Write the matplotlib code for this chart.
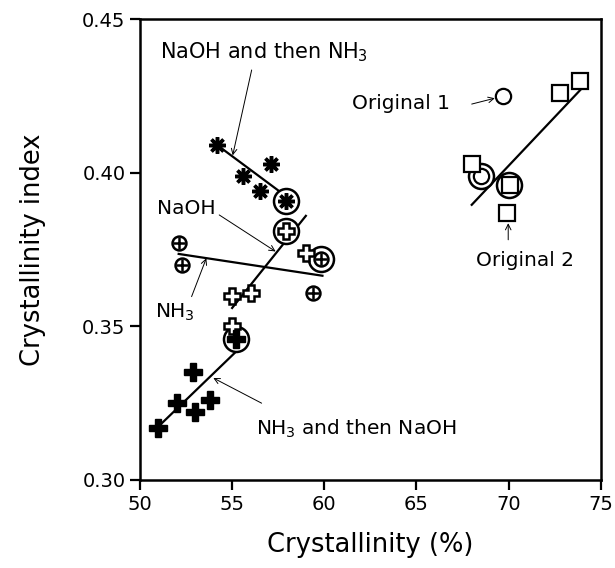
import matplotlib
matplotlib.use("Agg")
import matplotlib.pyplot as plt

# NaOH and then NH3 (asterisks)
ast_x = [54.2, 57.1, 55.6, 56.5]
ast_y = [0.409, 0.403, 0.399, 0.394]
ast_mean = (57.9, 0.391)
ast_line_x = [54.2, 57.9]
ast_line_y = [0.409, 0.3925]

# NaOH (open plus)
naoh_x = [55.0, 56.0, 59.0, 55.0]
naoh_y = [0.360, 0.361, 0.374, 0.350]
naoh_mean = (57.9, 0.381)
naoh_line_x = [55.0, 59.0]
naoh_line_y = [0.356, 0.386]

# NH3 (circled plus)
nh3_x = [52.1, 52.3, 59.4]
nh3_y = [0.377, 0.370, 0.361]
nh3_mean = (59.8, 0.372)
nh3_line_x = [52.1, 59.9]
nh3_line_y = [0.3736, 0.3665]

# NH3 and then NaOH (filled plus)
nn_x = [51.0, 52.0, 52.9, 53.0, 53.8]
nn_y = [0.317, 0.325, 0.335, 0.322, 0.326]
nn_mean = (55.2, 0.346)
nn_line_x = [51.0, 55.25]
nn_line_y = [0.3174, 0.342]

# Originals
orig1 = (69.7, 0.425)
orig1_mean = (68.5, 0.399)
sq_x = [73.9, 72.8, 68.0, 70.1, 69.9]
sq_y = [0.430, 0.426, 0.403, 0.396, 0.387]
sq_mean = (70.0, 0.396)
orig_line_x = [68.0, 74.05]
orig_line_y = [0.3896, 0.428]

fig = plt.figure(figsize=(6.15, 5.68), dpi=100)
ax = fig.add_axes([0.2276, 0.155, 0.7492, 0.811])

lw = 1.6
# fit lines
ax.plot(ast_line_x, ast_line_y, color='black', lw=lw, zorder=2)
ax.plot(naoh_line_x, naoh_line_y, color='black', lw=lw, zorder=2)
ax.plot(nh3_line_x, nh3_line_y, color='black', lw=lw, zorder=2)
ax.plot(nn_line_x, nn_line_y, color='black', lw=lw, zorder=2)
ax.plot(orig_line_x, orig_line_y, color='black', lw=lw, zorder=2)

# big circles round the means
big = [ast_mean, naoh_mean, nh3_mean, nn_mean, orig1_mean, sq_mean]
ax.plot([p[0] for p in big], [p[1] for p in big], 'o', ms=18, mfc='white',
        mec='black', mew=1.8, ls='none', zorder=3)

# asterisks
ax.plot(ast_x + [ast_mean[0]], ast_y + [ast_mean[1]], marker=(8, 2, 0), ms=12,
        mec='black', mew=2.5, ls='none', zorder=4)
# open plus
ax.plot(naoh_x + [naoh_mean[0]], naoh_y + [naoh_mean[1]], 'P', ms=12, mfc='white',
        mec='black', mew=1.8, ls='none', zorder=4)
# circled plus
nx = nh3_x + [nh3_mean[0]]
ny = nh3_y + [nh3_mean[1]]
ax.plot(nx, ny, 'o', ms=10, mfc='white', mec='black', mew=1.8, ls='none', zorder=4)
ax.plot(nx, ny, '+', ms=9, mec='black', mew=1.8, ls='none', zorder=5)
# filled plus
ax.plot(nn_x + [nn_mean[0]], nn_y + [nn_mean[1]], 'P', ms=13, mfc='black',
        mec='black', mew=1, ls='none', zorder=4)
# original 1 circle
ax.plot([orig1[0], orig1_mean[0]], [orig1[1], orig1_mean[1]], 'o', ms=11, mfc='white',
        mec='black', mew=1.6, ls='none', zorder=4)
# squares
ax.plot(sq_x, sq_y, 's', ms=11, mfc='white', mec='black', mew=1.6, ls='none', zorder=4)

fs = 14.5
arr = dict(arrowstyle='->', color='black', lw=0.7, shrinkA=0, shrinkB=0)
ax.annotate('', xy=(55.03, 0.4057), xytext=(56.06, 0.4335), arrowprops=arr)
ax.text(51.1, 0.4394, 'NaOH and then NH$_3$', fontsize=15, va='center', ha='left')
ax.annotate('', xy=(57.36, 0.3744), xytext=(54.3, 0.3863), arrowprops=arr)
ax.text(50.9, 0.3885, 'NaOH', fontsize=fs, va='center', ha='left')
ax.annotate('', xy=(53.6, 0.3722), xytext=(52.8, 0.3597), arrowprops=arr)
ax.text(50.8, 0.3545, 'NH$_3$', fontsize=fs, va='center', ha='left')
ax.annotate('', xy=(53.98, 0.3332), xytext=(56.6, 0.325), arrowprops=arr)
ax.text(56.3, 0.3168, 'NH$_3$ and then NaOH', fontsize=fs, va='center', ha='left')
ax.annotate('', xy=(69.25, 0.4243), xytext=(68.0, 0.4224), arrowprops=arr)
ax.text(61.5, 0.4225, 'Original 1', fontsize=fs, va='center', ha='left')
ax.annotate('', xy=(69.98, 0.3836), xytext=(69.98, 0.3782), arrowprops=arr)
ax.text(70.9, 0.3715, 'Original 2', fontsize=fs, va='center', ha='center')

ax.set_xlim(50, 75)
ax.set_ylim(0.30, 0.45)
ax.set_xticks([50, 55, 60, 65, 70, 75])
ax.set_yticks([0.30, 0.35, 0.40, 0.45])
ax.set_yticklabels(['0.30', '0.35', '0.40', '0.45'])
ax.tick_params(direction='out', length=7, width=1.6, labelsize=14)
for s in ax.spines.values():
    s.set_linewidth(1.8)
ax.set_xlabel('Crystallinity (%)', fontsize=18.5, labelpad=13)
ax.set_ylabel('Crystallinity index', fontsize=18.5, labelpad=26)

fig.savefig('out.png', dpi=100)
